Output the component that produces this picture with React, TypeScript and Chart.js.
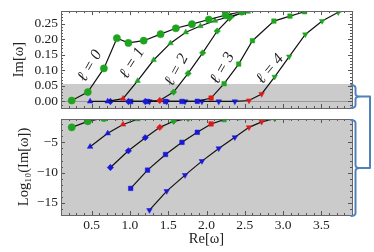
import { useEffect, useRef } from "react";
import { Chart, registerables } from "chart.js";
Chart.register(...registerables);

// ---------- data ----------
const xTicks = [0.5, 1.0, 1.5, 2.0, 2.5, 3.0, 3.5];
const topYTicks = [0, 0.05, 0.1, 0.15, 0.2, 0.25];
const bottomYTicks = [-15, -10, -5];

// l = 0 (circles)
const re0 = [0.24, 0.45, 0.66, 0.83, 0.98, 1.18, 1.40, 1.60, 1.81, 2.03, 2.25, 2.46, 2.68];
const im0 = [0.003, 0.03, 0.106, 0.203, 0.188, 0.195, 0.216, 0.235, 0.248, 0.263, 0.277, 0.288, 0.30];
const cls0 = ["g", "g", "g", "g", "g", "g", "g", "g", "g", "g", "g", "g", "g"];
// l = 1 (triangles)
const re1 = [0.48, 0.71, 0.91, 1.10, 1.31, 1.53, 1.73, 1.92, 2.11, 2.32, 2.54, 2.76];
const im1 = [1.9e-6, 3.1e-4, 0.009, 0.066, 0.133, 0.187, 0.222, 0.242, 0.259, 0.274, 0.288, 0.30];
const cls1 = ["b", "b", "r", "g", "g", "g", "g", "g", "g", "g", "g", "g"];
// l = 2 (diamonds)
const re2 = [0.745, 0.98, 1.20, 1.39, 1.57, 1.76, 1.95, 2.14, 2.30, 2.48, 2.66];
const im2 = [7e-10, 4e-7, 6e-5, 0.003, 0.03, 0.09, 0.156, 0.226, 0.267, 0.288, 0.30];
const cls2 = ["b", "b", "b", "r", "g", "g", "g", "g", "g", "g", "g"];
// l = 3 (squares)
const re3 = [1.01, 1.23, 1.465, 1.68, 1.88, 2.06, 2.23, 2.42, 2.60, 2.88, 3.09, 3.28, 3.48];
const im3 = [2.5e-13, 2.6e-10, 1e-7, 1e-5, 4.6e-4, 0.011, 0.057, 0.12, 0.195, 0.258, 0.274, 0.288, 0.30];
const cls3 = ["b", "b", "b", "b", "b", "r", "g", "g", "g", "g", "g", "g", "g"];
// l = 4 (down triangles)
const re4 = [1.255, 1.48, 1.72, 1.94, 2.16, 2.37, 2.555, 2.72, 2.89, 3.08, 3.29, 3.51, 3.72, 3.93];
const im4 = [6.3e-17, 8.7e-14, 3.9e-11, 7.9e-9, 1.0e-6, 6.8e-5, 0.003, 0.024, 0.079, 0.144, 0.215, 0.258, 0.286, 0.30];
const cls4 = ["b", "b", "b", "b", "b", "b", "r", "r", "g", "g", "g", "g", "g", "g"];

const labelText = ["ℓ = 0", "ℓ = 1", "ℓ = 2", "ℓ = 3", "ℓ = 4"];
const labelRe = [0.48, 1.03, 1.61, 2.21, 2.83];
const labelIm = [0.114, 0.123, 0.101, 0.107, 0.104];
const labelAngle = [-60, -58, -62, -60, -50];

// ---------- styling ----------
const X_MIN = 0.1, X_MAX = 3.9;
const TOP_MIN = -0.021, TOP_MAX = 0.29, GRAY_TOP = 0.056;
const BOT_MIN = -17.0, BOT_MAX = -1.14;
const COLORS: Record<string, string> = { b: "#1818D8", r: "#DC1A1A", g: "#1FA41F" };
const FONT = '"Liberation Serif", "DejaVu Serif", serif';
const GRAY = "#CBCBCB";

const seriesRe = [re0, re1, re2, re3, re4];
const seriesIm = [im0, im1, im2, im3, im4];
const seriesCls = [cls0, cls1, cls2, cls3, cls4];
const styles = ["circle", "triangle", "rectRot", "rect", "triangle"];
const rotations = [0, 0, 0, 0, 180];
const radii = [3.6, 3.2, 3.2, 3.2, 3.2];

function makeDatasets(log: boolean) {
  return seriesRe.map((re, k) => ({
    data: re.map((x, i) => ({ x, y: log ? Math.log10(seriesIm[k][i]) : seriesIm[k][i] })),
    showLine: true,
    borderColor: "#111",
    borderWidth: 1.2,
    pointStyle: styles[k],
    rotation: rotations[k],
    pointRotation: rotations[k],
    pointRadius: radii[k],
    pointBackgroundColor: seriesCls[k].map((c) => COLORS[c]),
    pointBorderColor: seriesCls[k].map((c) => COLORS[c]),
    pointBorderWidth: 0.5,
    clip: 0,
  }));
}

function drawFrame(chart: any, yMinor: number, yMajor: number) {
  const { ctx, chartArea: a, scales } = chart;
  const xs = scales.x, ys = scales.y;
  ctx.save();
  ctx.strokeStyle = "#555";
  ctx.lineWidth = 1;
  ctx.beginPath();
  const x0 = Math.ceil(X_MIN / 0.1 - 1e-6), x1 = Math.floor(X_MAX / 0.1 + 1e-6);
  for (let i = x0; i <= x1; i++) {
    const v = i * 0.1;
    const major = i % 5 === 0;
    const len = major ? 4 : 2;
    const px = Math.round(xs.getPixelForValue(v)) + 0.5;
    ctx.moveTo(px, a.top); ctx.lineTo(px, a.top + len);
    ctx.moveTo(px, a.bottom); ctx.lineTo(px, a.bottom - len);
  }
  const y0 = Math.ceil(ys.min / yMinor - 1e-6), y1 = Math.floor(ys.max / yMinor + 1e-6);
  const ratio = Math.round(yMajor / yMinor);
  for (let i = y0; i <= y1; i++) {
    const v = i * yMinor;
    const major = i % ratio === 0;
    const len = major ? 4 : 2;
    const py = Math.round(ys.getPixelForValue(v)) + 0.5;
    ctx.moveTo(a.left, py); ctx.lineTo(a.left + len, py);
    ctx.moveTo(a.right, py); ctx.lineTo(a.right - len, py);
  }
  ctx.stroke();
  ctx.strokeStyle = "#666";
  ctx.strokeRect(Math.round(a.left) + 0.5, Math.round(a.top) + 0.5, Math.round(a.right - a.left), Math.round(a.bottom - a.top));
  ctx.restore();
}

function fixedWidth(w: number) {
  return (s: any) => { s.width = w; };
}

export default function App() {
  const topRef = useRef<HTMLCanvasElement>(null);
  const botRef = useRef<HTMLCanvasElement>(null);

  useEffect(() => {
    const tickFont = { family: FONT, size: 13.5 };
    const titleFont = { family: FONT, size: 14.5 };

    const topBg = {
      id: "topBg",
      beforeDatasetsDraw(chart: any) {
        const { ctx, chartArea: a, scales } = chart;
        const yg = scales.y.getPixelForValue(GRAY_TOP);
        ctx.save();
        ctx.fillStyle = GRAY;
        ctx.fillRect(a.left, yg, a.right - a.left, a.bottom - yg);
        ctx.strokeStyle = "#9a9a9a";
        ctx.lineWidth = 1;
        const y0 = Math.round(scales.y.getPixelForValue(0)) + 0.5;
        ctx.beginPath(); ctx.moveTo(a.left, y0); ctx.lineTo(a.right, y0); ctx.stroke();
        ctx.restore();
      },
      afterDatasetsDraw(chart: any) {
        drawFrame(chart, 0.01, 0.05);
        const { ctx, scales } = chart;
        ctx.save();
        ctx.font = `italic 16px ${FONT}`;
        ctx.fillStyle = "#222";
        ctx.textAlign = "center";
        ctx.textBaseline = "middle";
        labelText.forEach((t, i) => {
          const px = scales.x.getPixelForValue(labelRe[i]);
          const py = scales.y.getPixelForValue(labelIm[i]);
          ctx.save();
          ctx.translate(px, py);
          ctx.rotate((labelAngle[i] * Math.PI) / 180);
          ctx.fillText(t, 0, 0);
          ctx.restore();
        });
        ctx.restore();
      },
    };

    const top = new Chart(topRef.current!, {
      type: "scatter",
      data: { datasets: makeDatasets(false) as any },
      options: {
        animation: false,
        responsive: false,
        events: [],
        layout: { padding: { left: 0, top: 11, right: 22, bottom: 144 } },
        plugins: { legend: { display: false }, tooltip: { enabled: false } },
        scales: {
          x: { type: "linear", min: X_MIN, max: X_MAX, display: false },
          y: {
            type: "linear", min: TOP_MIN, max: TOP_MAX,
            afterFit: fixedWidth(61),
            afterBuildTicks: (s: any) => { s.ticks = topYTicks.map((v) => ({ value: v })); },
            grid: { display: false, drawTicks: false },
            border: { display: false },
            ticks: { font: tickFont, color: "#222", padding: 3, callback: (v: any) => Number(v).toFixed(2) },
            title: { display: true, text: "Im[ω]", font: titleFont, color: "#222", padding: { top: 10, bottom: 0 } },
          },
        },
      },
      plugins: [topBg],
    });

    const botBg = {
      id: "botBg",
      beforeDatasetsDraw(chart: any) {
        const { ctx, chartArea: a } = chart;
        ctx.save();
        ctx.fillStyle = GRAY;
        ctx.fillRect(a.left, a.top, a.right - a.left, a.bottom - a.top);
        ctx.restore();
      },
      afterDatasetsDraw(chart: any) {
        drawFrame(chart, 1, 5);
      },
      afterDraw(chart: any) {
        const { ctx, chartArea: a } = chart;
        const ta = top.chartArea;
        const tyTop = top.scales.y.getPixelForValue(GRAY_TOP);
        const bx = Math.round(a.right) + 3.5;
        const hook = 5;
        const joinX = 370;
        ctx.save();
        ctx.strokeStyle = "#4F81BD";
        ctx.lineWidth = 2;
        ctx.lineJoin = "round";
        const bracket = (y1: number, y2: number) => {
          const ym = (y1 + y2) / 2;
          ctx.beginPath();
          ctx.moveTo(bx - hook, y1);
          ctx.quadraticCurveTo(bx, y1, bx, y1 + 3);
          ctx.lineTo(bx, ym - 3);
          ctx.quadraticCurveTo(bx, ym, bx + 4, ym);
          ctx.quadraticCurveTo(bx, ym, bx, ym + 3);
          ctx.lineTo(bx, y2 - 3);
          ctx.quadraticCurveTo(bx, y2, bx - hook, y2);
          ctx.stroke();
          return ym;
        };
        const m1 = bracket(tyTop + 1, ta.bottom);
        const m2 = bracket(a.top + 1, a.bottom + 1);
        ctx.beginPath();
        ctx.moveTo(bx + 4, m1);
        ctx.lineTo(joinX, m1);
        ctx.lineTo(joinX, m2);
        ctx.lineTo(bx + 4, m2);
        ctx.stroke();
        ctx.restore();
      },
    };

    const bot = new Chart(botRef.current!, {
      type: "scatter",
      data: { datasets: makeDatasets(true) as any },
      options: {
        animation: false,
        responsive: false,
        events: [],
        layout: { padding: { left: 0, top: 119, right: 22, bottom: 0 } },
        plugins: { legend: { display: false }, tooltip: { enabled: false } },
        scales: {
          x: {
            type: "linear", min: X_MIN, max: X_MAX,
            afterFit: (s: any) => { s.height = 37; },
            afterBuildTicks: (s: any) => { s.ticks = xTicks.map((v) => ({ value: v })); },
            grid: { display: false, drawTicks: false },
            border: { display: false },
            ticks: { font: tickFont, color: "#222", padding: 2, maxRotation: 0, autoSkip: false, callback: (v: any) => Number(v).toFixed(1) },
            title: { display: true, text: "Re[ω]", font: titleFont, color: "#222", padding: { top: 0, bottom: 4 } },
          },
          y: {
            type: "linear", min: BOT_MIN, max: BOT_MAX,
            afterFit: fixedWidth(61),
            afterBuildTicks: (s: any) => { s.ticks = bottomYTicks.map((v) => ({ value: v })); },
            grid: { display: false, drawTicks: false },
            border: { display: false },
            ticks: { font: tickFont, color: "#222", padding: 3, callback: (v: any) => "−" + Math.abs(Number(v)) },
            title: { display: true, text: "Log₁₀(Im[ω])", font: titleFont, color: "#222", padding: { top: 15, bottom: 0 } },
          },
        },
      },
      plugins: [botBg],
    });

    return () => {
      bot.destroy();
      top.destroy();
    };
  }, []);

  const cs: any = { position: "absolute", left: 0, top: 0 };
  return (
    <div style={{ position: "fixed", left: 0, top: 0, width: 374, height: 252, background: "#fff" }}>
      <canvas ref={topRef} width={374} height={252} style={cs} />
      <canvas ref={botRef} width={374} height={252} style={cs} />
    </div>
  );
}
